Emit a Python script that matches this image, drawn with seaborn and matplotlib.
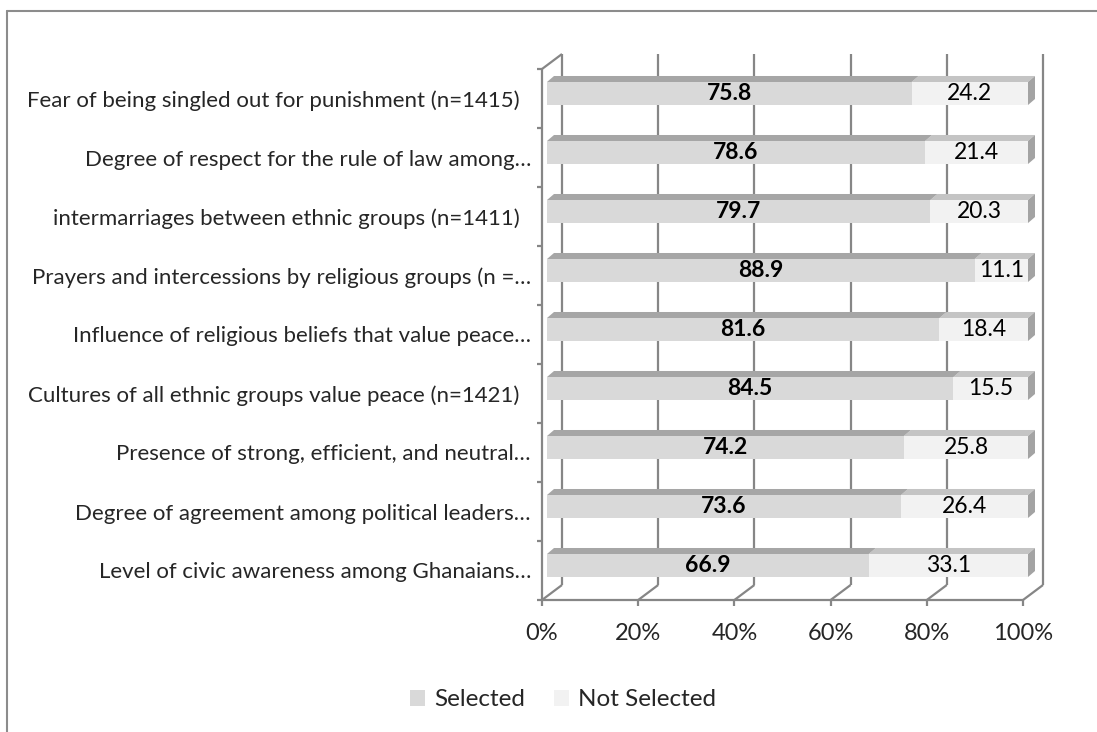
import numpy as np
import pandas as pd
import matplotlib
matplotlib.use("Agg")
import matplotlib.pyplot as plt
import matplotlib.transforms as mtransforms
from matplotlib.patches import Polygon, Patch
from matplotlib.lines import Line2D
import seaborn as sns

# ---- data -------------------------------------------------------------
categories = [
    "Fear of being singled out for punishment (n=1415)  ",
    "Degree of respect for the rule of law among…",
    "intermarriages between ethnic groups (n=1411)  ",
    "Prayers and intercessions by religious groups (n =…",
    "Influence of religious beliefs that value peace…",
    "Cultures of all ethnic groups value peace (n=1421)  ",
    "Presence of strong, efficient, and neutral…",
    "Degree of agreement among political leaders…",
    "Level of civic awareness among Ghanaians…",
]
selected = [75.8, 78.6, 79.7, 88.9, 81.6, 84.5, 74.2, 73.6, 66.9]
not_selected = [24.2, 21.4, 20.3, 11.1, 18.4, 15.5, 25.8, 26.4, 33.1]
series_names = ["Selected", "Not Selected"]
x_ticks = [0, 20, 40, 60, 80, 100]
x_tick_labels = ["0%", "20%", "40%", "60%", "80%", "100%"]

# ---- style ------------------------------------------------------------
sns.set_style("white")
plt.rcParams["font.family"] = ["Lato", "DejaVu Sans"]
FS_CAT, FS_VAL, FS_TICK, FS_LEG = 16, 16.5, 17, 17.5
SEL_FRONT, SEL_TOP = "#d9d9d9", "#a6a6a6"
NOT_FRONT, NOT_TOP, SIDE = "#f2f2f2", "#c4c4c4", "#a3a3a3"
GRID = "#868686"

W, H, DPI = 1097, 732, 100
fig = plt.figure(figsize=(W / DPI, H / DPI), dpi=DPI)

# front plane of the 3-D box, in pixels
L, R, T, B = 542, 1023, 69, 600
ax = fig.add_axes([L / W, 1 - B / H, (R - L) / W, (B - T) / H])

df = pd.DataFrame({
    "category": categories,
    "selected": selected,
    "total": np.array(selected) + np.array(not_selected),
})

bar_h = 0.39
sns.barplot(data=df, x="total", y="category", orient="h", color=NOT_FRONT,
            saturation=1, width=bar_h, linewidth=0, errorbar=None, ax=ax, zorder=2)
sns.barplot(data=df, x="selected", y="category", orient="h", color=SEL_FRONT,
            saturation=1, width=bar_h, linewidth=0, errorbar=None, ax=ax, zorder=2)

ax.set_xlim(0, 100)
ax.set_ylim(len(categories) - 0.5, -0.5)
ax.set_xlabel("")
ax.set_ylabel("")
for s in ax.spines.values():
    s.set_visible(False)

# data units per pixel
pxx = 100 / (R - L)
pxy = len(categories) / (B - T)

# bars sit a little behind the front plane
bar_tr = mtransforms.offset_copy(ax.transData, fig=fig, x=5, y=5, units="dots")
for p in ax.patches:
    p.set_transform(bar_tr)
    p.set_clip_on(False)

dx, dy = 7 * pxx, 6 * pxy
for i, (s, n) in enumerate(zip(selected, not_selected)):
    yt, yb = i - bar_h / 2, i + bar_h / 2
    tot = s + n
    # top faces
    for x0, x1, col in [(s, tot, NOT_TOP), (0, s, SEL_TOP)]:
        ax.add_patch(Polygon([(x0, yt), (x1, yt), (x1 + dx, yt - dy), (x0 + dx, yt - dy)],
                             closed=True, facecolor=col, edgecolor="none",
                             transform=bar_tr, clip_on=False, zorder=2))
    # right side face
    ax.add_patch(Polygon([(tot, yt), (tot + dx, yt - dy), (tot + dx, yb - dy), (tot, yb)],
                         closed=True, facecolor=SIDE, edgecolor="none",
                         transform=bar_tr, clip_on=False, zorder=2))
    # value labels
    ax.text(s / 2, i, f"{s:.1f}", ha="center", va="center", fontsize=FS_VAL,
            fontweight="bold", color="black", transform=bar_tr, zorder=3)
    ax.text(s + n / 2, i, f"{n:.1f}", ha="center", va="center", fontsize=FS_VAL,
            color="black", transform=bar_tr, zorder=3)

# 3-D frame: back wall gridlines, floor and left wall
bx, by = 20 * pxx, 15 * pxy
y_bot, y_top = len(categories) - 0.5, -0.5
lk = dict(color=GRID, lw=1.6, clip_on=False, solid_capstyle="butt")
for xv in x_ticks:
    ax.plot([xv + bx, xv + bx], [y_bot - by, y_top - by], zorder=0.5, **lk)
    ax.plot([xv, xv + bx], [y_bot, y_bot - by], zorder=0.6, **lk)
ax.plot([0, 100], [y_bot, y_bot], zorder=0.6, **lk)
ax.plot([0, 0], [y_bot, y_top], zorder=0.6, **lk)
ax.plot([0, bx], [y_top, y_top - by], zorder=0.6, **lk)

# ticks
ax.set_xticks(x_ticks)
ax.set_xticklabels(x_tick_labels, fontsize=FS_TICK)
ax.tick_params(axis="x", which="major", direction="out", length=4.5, width=1.6,
               color=GRID, pad=12, bottom=True)
ax.set_yticks(range(len(categories)))
ax.set_yticklabels(categories, fontsize=FS_CAT)
ax.tick_params(axis="y", which="major", length=0, pad=8)
ax.set_yticks(np.arange(-0.5, len(categories)), minor=True)
ax.tick_params(axis="y", which="minor", direction="out", length=3.6, width=1.6,
               color=GRID, left=True)

# legend
handles = [Patch(facecolor=SEL_FRONT, edgecolor="none"),
           Patch(facecolor=NOT_FRONT, edgecolor="none")]
fig.legend(handles, series_names, loc="center", bbox_to_anchor=(563 / W, 1 - 700 / H),
           ncol=2, frameon=False, fontsize=FS_LEG, handlelength=0.62, handleheight=0.62,
           handletextpad=0.35, columnspacing=1.2)

# chart-area border
fig.add_artist(Line2D([7 / W, 7 / W], [0, 1 - 11 / H], color="#8c8c8c", lw=1.5,
                      transform=fig.transFigure))
fig.add_artist(Line2D([7 / W, 1], [1 - 11 / H, 1 - 11 / H], color="#8c8c8c", lw=1.5,
                      transform=fig.transFigure))

fig.savefig("out.png", dpi=DPI, facecolor="white")
